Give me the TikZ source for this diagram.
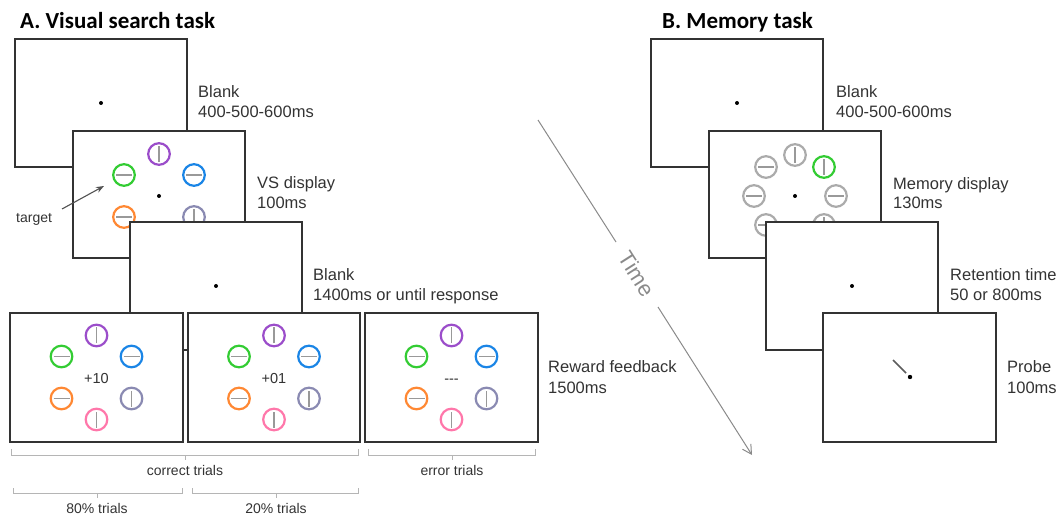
\documentclass[tikz,border=0pt]{standalone}
\usepackage{fontspec}
\setmainfont{Liberation Sans}
\newfontfamily\titlefont{Carlito}
\usetikzlibrary{arrows.meta}
\definecolor{txt}{HTML}{333333}
\definecolor{cpur}{HTML}{9B4DCA}
\definecolor{cgrn}{HTML}{33CC33}
\definecolor{cblu}{HTML}{1A85E6}
\definecolor{corg}{HTML}{FF8833}
\definecolor{cgpu}{HTML}{8A8AB2}
\definecolor{cpnk}{HTML}{FF77AA}
\definecolor{cgry}{HTML}{ABABAB}
\definecolor{barc}{HTML}{999999}
\definecolor{brkc}{HTML}{B5B5B5}
\definecolor{timec}{HTML}{8A8A8A}
\tikzset{
  scr/.style={draw=txt, line width=1.3pt, fill=white},
  stimring/.style={line width=2.2pt},
  stimbar/.style={draw=barc, line width=1.4pt},
  fixdot/.style={fill=black},
  lbl/.style={text=txt, font=\fontsize{16.5}{20}\selectfont, inner sep=0pt, anchor=base west},
  small/.style={text=txt, font=\fontsize{14}{16}\selectfont, inner sep=0pt, anchor=base},
  fb/.style={text=txt, font=\fontsize{14.5}{16}\selectfont, inner sep=0pt, anchor=base},
  ttl/.style={font=\titlefont\bfseries\fontsize{23}{26}\selectfont, inner sep=0pt, anchor=base west},
  brk/.style={draw=brkc, line width=0.8pt},
}
\newcommand\stimdisc[4]{%
  \draw[stimring,#3] (#1,#2) circle (10.8);
  \draw[stimbar,shift={(#1,#2)},rotate=#4] (-8,0) -- (8,0);
}
\newcommand\hexstims[2]{%
  \begin{scope}[shift={(#1,#2)}]
    \stimdisc{0}{-42}{cpur}{90}
    \stimdisc{-35}{-21}{cgrn}{0}
    \stimdisc{35}{-21}{cblu}{0}
    \stimdisc{-35}{21}{corg}{0}
    \stimdisc{35}{21}{cgpu}{90}
    \stimdisc{0}{42}{cpnk}{90}
  \end{scope}
}
\begin{document}
\begin{tikzpicture}[x=1pt,y=-1pt]
\useasboundingbox (0,0) rectangle (1057,518);

% ---------- A. Visual search task ----------
\node[ttl] (ta) at (20,29) {A. Visual search task};

\draw[scr] (15,39) rectangle (187,167);
\fill[fixdot] (101,103) circle (2);
\node[lbl] (la1) at (198,98) {Blank};
\node[lbl] (la2) at (198,118) {400-500-600ms};

\draw[scr] (73,131) rectangle (245,258);
\hexstims{159}{196}
\fill[fixdot] (159,196) circle (2);
\node[lbl] (lb1) at (257,189) {VS display};
\node[lbl] (lb2) at (257,209) {100ms};
\node[small, anchor=base west] (tgt) at (16,222.5) {target};
\coordinate (tgtstart) at (62,209);
\coordinate (tgtend) at (104,186);
\draw[draw=txt!85, line width=1.1pt, -{Stealth[length=8pt,width=6pt]}] (tgtstart) -- (tgtend);

\draw[scr] (130,222) rectangle (302,350);
\fill[fixdot] (216,286) circle (2);
\node[lbl] (lc1) at (313,281) {Blank};
\node[lbl] (lc2) at (313,301) {1400ms or until response};

\draw[scr] (10,313) rectangle (183,442);
\hexstims{96.5}{377.5}
\node[fb] (f1) at (96.5,383) {+10};
\draw[scr] (188,313) rectangle (360,442);
\hexstims{274}{377.5}
\node[fb] (f2) at (274,383) {+01};
\draw[scr] (365,313) rectangle (538,442);
\hexstims{451.5}{377.5}
\node[fb] (f3) at (451.5,383) {\hbox{-}\hbox{-}\hbox{-}};
\node[lbl] (ld1) at (548,373) {Reward feedback};
\node[lbl] (ld2) at (548,393) {1500ms};

% brackets
\draw[brk] (11,449) -- (11,455) -- (358,455) -- (358,449);
\draw[brk] (185,455) -- (185,460);
\node[small] (bc) at (185,475) {correct trials};
\draw[brk] (368,449) -- (368,455) -- (535,455) -- (535,449);
\draw[brk] (452,455) -- (452,460);
\node[small] (be) at (452,475) {error trials};
\draw[brk] (13,488) -- (13,493) -- (182,493) -- (182,488);
\draw[brk] (97,493) -- (97,498);
\node[small] (b80) at (97,513.5) {80\% trials};
\draw[brk] (192,488) -- (192,493) -- (358,493) -- (358,488);
\draw[brk] (276,493) -- (276,498);
\node[small] (b20) at (276,513.5) {20\% trials};

% ---------- Time arrow ----------
\coordinate (t0) at (538,120);
\coordinate (t1) at (616,242);
\node[text=timec, font=\fontsize{22}{24}\selectfont, rotate=-57.4, inner sep=0pt] (time) at (637,274) {Time};
\coordinate (t2) at (658,307);
\coordinate (t3) at (752,455);
\draw[draw=timec, line width=1pt] (t0) -- (t1);
\draw[draw=timec, line width=1pt, -{Straight Barb[length=9pt,width=10pt]}] (t2) -- (t3);

% ---------- B. Memory task ----------
\node[ttl] (tb) at (662,29) {B. Memory task};

\draw[scr] (651,39) rectangle (823,167);
\fill[fixdot] (737,103) circle (2);
\node[lbl] (le1) at (836,98) {Blank};
\node[lbl] (le2) at (836,118) {400-500-600ms};

\draw[scr] (709,131) rectangle (881,258);
\stimdisc{795}{155}{cgry}{90}
\stimdisc{824}{167}{cgrn}{90}
\stimdisc{836}{196}{cgry}{0}
\stimdisc{824}{225}{cgry}{90}
\stimdisc{795}{237}{cgry}{0}
\stimdisc{766}{225}{cgry}{0}
\stimdisc{754}{196}{cgry}{0}
\stimdisc{766}{167}{cgry}{0}
\fill[fixdot] (795,196) circle (2);
\node[lbl] (lf1) at (893,190) {Memory display};
\node[lbl] (lf2) at (893,209) {130ms};

\draw[scr] (766,222) rectangle (938,350);
\fill[fixdot] (852,286) circle (2);
\node[lbl] (lg1) at (950,281) {Retention time};
\node[lbl] (lg2) at (950,301) {50 or 800ms};

\draw[scr] (823,313) rectangle (996,442);
\draw[draw=txt!80, line width=1.6pt] (893,360) -- (906,373);
\fill[fixdot] (910,377) circle (2.2);
\node[lbl] (lh1) at (1007,373) {Probe};
\node[lbl] (lh2) at (1007,393) {100ms};
\end{tikzpicture}
\end{document}
